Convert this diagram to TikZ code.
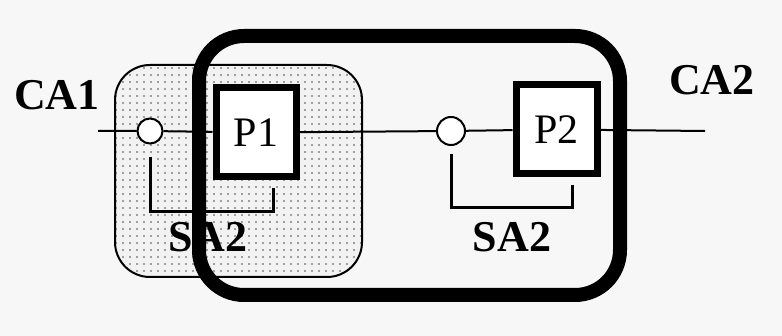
\documentclass[tikz,border=0pt]{standalone}
\usepackage{fontspec}
\setmainfont{Liberation Serif}
\usetikzlibrary{patterns.meta}

\begin{document}
\begin{tikzpicture}[x=1pt, y=-1pt,
    every node/.style={align=center, inner sep=0pt},
    biglabel/.style={font=\fontsize{44}{44}\selectfont\bfseries},
    procbox/.style={draw, line width=7pt, fill=white,
      font=\fontsize{42}{42}\selectfont},
    junction/.style={draw, circle, line width=2pt, fill=white},
    signal/.style={line width=2pt},
    bracket/.style={line width=3pt},
    sharea/.style={draw, line width=2pt, rounded corners=35pt,
      preaction={fill=gray!10},
      pattern={Dots[distance=6.5pt, radius=0.9pt]}, pattern color=black!70},
    outerbox/.style={draw, line width=14pt, rounded corners=45pt}]
    % fondo
    \fill[black!3] (0,0) rectangle (782,336);
    \useasboundingbox (0,0) rectangle (782,336);

    % zona sombreada
    \path[sharea] (115,65) rectangle (362,277);

    % nodos de la linea
    \coordinate (in) at (98,131);
    \coordinate (out) at (705,131);
    \node[junction, minimum size=25pt] (c1) at (150,131) {};
    \node[procbox, minimum width=80pt, minimum height=89pt] (p1) at (256,132.5) {P1};
    \node[junction, minimum size=28pt] (c2) at (451,131) {};
    \node[procbox, minimum width=81pt, minimum height=89pt] (p2) at (556.5,129.5) {P2};

    % linea principal
    \draw[signal] (in) -- (c1) -- (p1) -- (c2) -- (p2) -- (out);

    % corchetes
    \draw[bracket] (c1.south) ++(0,13) |- (273,212) -- (273,188);
    \draw[bracket] (c2.south) ++(0,8) |- (572,208) -- (572,185);

    % etiquetas
    \node[biglabel] (ca1) at (57,95) {CA1};
    \node[biglabel] (ca2) at (712,80) {CA2};
    \node[biglabel] (sa2a) at (208,237) {SA2};
    \node[biglabel] (sa2b) at (512,237) {SA2};

    % recuadro grueso
    \path[outerbox] (199,36) rectangle (620,295);
\end{tikzpicture}
\end{document}
